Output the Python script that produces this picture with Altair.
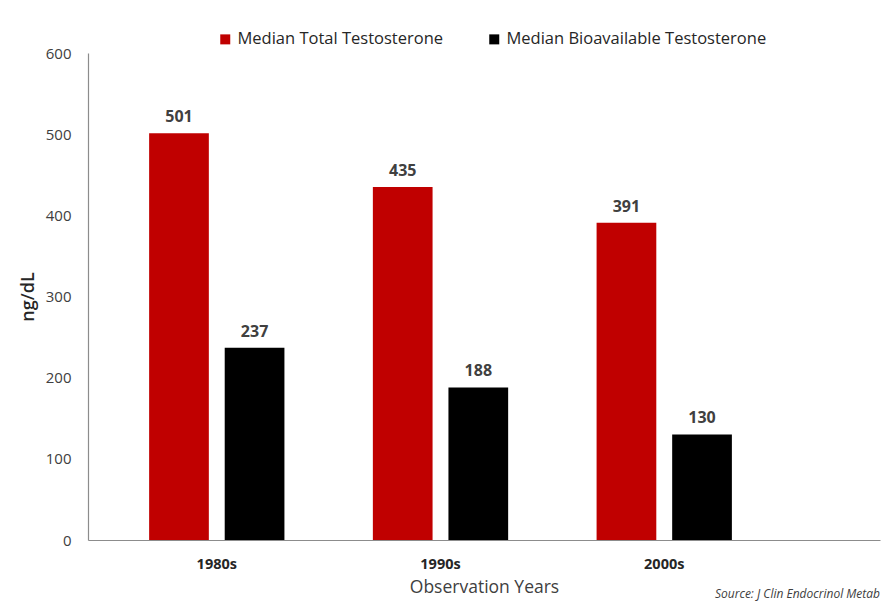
import altair as alt
import pandas as pd

years = ["1980s", "1990s", "2000s"]
series = ["Median Total Testosterone", "Median Bioavailable Testosterone"]
total_vals = [501, 435, 391]
bio_vals = [237, 188, 130]
colors = ["#C00000", "#000000"]

rows = []
for y, t, b in zip(years, total_vals, bio_vals):
    rows.append({"Year": y, "Series": series[0], "Value": t})
    rows.append({"Year": y, "Series": series[1], "Value": b})
df = pd.DataFrame(rows)

FONT = "Open Sans"

x_enc = alt.X("Year:N", sort=years,
              scale=alt.Scale(paddingInner=0, paddingOuter=0.27, align=0.14),
              axis=alt.Axis(title="Observation Years", labelAngle=0, ticks=False,
                            labelFont=FONT, labelFontSize=14.5, labelFontWeight="bold",
                            labelColor="#262626", labelPadding=17,
                            titleFont=FONT, titleFontSize=17.5, titleFontWeight="normal",
                            titleColor="#404040", titlePadding=8,
                            domainColor="#8c8c8c", domainWidth=1.2))
xoff_enc = alt.XOffset("Series:N", sort=series,
                       scale=alt.Scale(paddingInner=0.21, paddingOuter=0.585))
y_enc = alt.Y("Value:Q",
              scale=alt.Scale(domain=[0, 600]),
              axis=alt.Axis(title="ng/dL", values=[0, 100, 200, 300, 400, 500, 600],
                            grid=False, ticks=False,
                            labelFont=FONT, labelFontSize=15, labelColor="#404040",
                            labelPadding=17,
                            titleFont=FONT, titleFontSize=18, titleFontWeight=600,
                            titleColor="#262626", titlePadding=8,
                            domainColor="#8c8c8c", domainWidth=1.2))

bars = alt.Chart(df).mark_bar().encode(
    x=x_enc, xOffset=xoff_enc, y=y_enc,
    color=alt.Color("Series:N", sort=series,
                    scale=alt.Scale(domain=series, range=colors),
                    legend=alt.Legend(title=None, orient="none", direction="horizontal",
                                      legendX=129, legendY=-22,
                                      symbolType="square", symbolSize=100,
                                      symbolStrokeWidth=0,
                                      labelFont=FONT, labelFontSize=16.5,
                                      labelColor="#262626", columnPadding=42,
                                      labelLimit=400))
)

labels = alt.Chart(df).mark_text(
    dy=-8, font=FONT, fontSize=16, fontWeight="bold", color="#404040", baseline="bottom"
).encode(
    x=alt.X("Year:N", sort=years), xOffset=alt.XOffset("Series:N", sort=series),
    y="Value:Q", text="Value:Q"
)

source = alt.Chart(pd.DataFrame({"t": ["Source: J Clin Endocrinol Metab"]})).mark_text(
    font=FONT, fontSize=12, fontStyle="italic", color="#404040", align="right", baseline="bottom"
).encode(x=alt.value(792), y=alt.value(548), text="t:N")

chart = alt.layer(bars, labels, source).properties(
    width=792, height=487,
    autosize=alt.AutoSizeParams(type="none"),
    padding={"left": 80, "top": 45, "right": 2, "bottom": 62},
    background="white",
).configure_view(stroke=None)

chart.save("out.html", embed_options={"renderer": "svg", "actions": False})
